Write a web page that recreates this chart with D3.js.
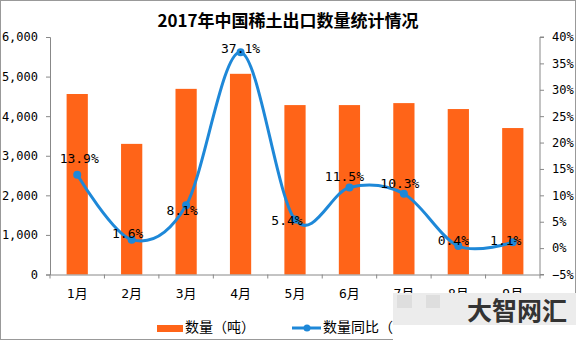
<!DOCTYPE html>
<html><head><meta charset="utf-8">
<script src="https://cdn.jsdelivr.net/npm/d3@7/dist/d3.min.js"></script>
<style>
body{margin:0;background:#fff;}
svg{display:block;}
text{font-family:"DejaVu Sans Mono","Noto Sans CJK SC",monospace;}
</style></head>
<body><svg id="c" width="576" height="341"></svg>
<script>
const title = "2017年中国稀土出口数量统计情况";
const months = ["1月","2月","3月","4月","5月","6月","7月","8月","9月"];
const volume = [4560,3300,4690,5070,4280,4280,4330,4180,3700];
const yoy = [13.9,1.6,8.1,37.1,5.4,11.5,10.3,0.4,1.1];
const leftTicks = [0,1000,2000,3000,4000,5000,6000];
const rightTicks = [-5,0,5,10,15,20,25,30,35,40];
const seriesNames = ["数量（吨）","数量同比（%）"];
// label offsets relative to points (layout only)
const labelDx = [2,-4,-4,0,-8,-5,-4,-5,-7];
const labelDy = [-15,-5,6,-3,2,-10,-9,-5,-1];

const orange = "#FF6418", blue = "#1E88D8", axisC = "#888";
const svg = d3.select("#c");
const L = 50, R = 540, T = 37, B = 274.5;

svg.append("rect").attr("x",0.5).attr("y",0.5).attr("width",575).attr("height",339)
  .attr("fill","#fff").attr("stroke","#999");

svg.append("text").attr("x",288).attr("y",22).attr("text-anchor","middle")
  .attr("dominant-baseline","middle")
  .style("font-family","'Noto Sans CJK SC',sans-serif").style("font-weight","bold")
  .style("font-size","17px").text(title);

const x = d3.scaleBand().domain(months).range([L,R]);
const yL = d3.scaleLinear().domain([0,6000]).range([B,T]);
const yR = d3.scaleLinear().domain([-5,40]).range([B,T]);

// bars
const bw = x.bandwidth()*0.39;
svg.append("g").selectAll("rect").data(months).join("rect")
  .attr("x",(d)=>x(d)+x.bandwidth()/2-bw/2)
  .attr("y",(d,i)=>yL(volume[i]))
  .attr("width",bw)
  .attr("height",(d,i)=>yL(0)-yL(volume[i]))
  .attr("fill",orange);

// axes
const fmt = d3.format(",");
const gl = svg.append("g").attr("transform",`translate(${L},0)`)
  .call(d3.axisLeft(yL).tickValues(leftTicks).tickFormat(fmt).tickSize(4).tickPadding(8));
const gr = svg.append("g").attr("transform",`translate(${R},0)`)
  .call(d3.axisRight(yR).tickValues(rightTicks).tickFormat(d=>d3.format("")(d)+"%").tickSize(4).tickPadding(8));
const gx = svg.append("g").attr("transform",`translate(0,${B})`)
  .call(d3.axisBottom(x).tickSize(0).tickPadding(14));
// band boundary ticks
const bounds = months.map(m=>x(m)).concat([R]);
gx.selectAll("line.bt").data(bounds).join("line").attr("class","bt")
  .attr("x1",d=>d).attr("x2",d=>d).attr("y1",0).attr("y2",4).attr("stroke",axisC);
[gl,gr,gx].forEach(g=>{
  g.selectAll("path.domain").attr("stroke",axisC);
  g.selectAll(".tick line").attr("stroke",axisC);
  g.selectAll("text").attr("fill","#000").style("font-size","12px")
   .style("font-family","'DejaVu Sans Mono','Noto Sans CJK SC',monospace");
});
gx.selectAll("text").style("font-size","13px");
gr.select("path.domain").attr("d",`M4,${T}H0V${B}H4`);

// line
const cx = (i)=>x(months[i])+x.bandwidth()/2;
const line = d3.line().x((d,i)=>cx(i)).y(d=>yR(d)).curve(d3.curveCardinal.tension(0));
svg.append("path").datum(yoy).attr("d",line).attr("fill","none")
  .attr("stroke",blue).attr("stroke-width",3);
svg.append("g").selectAll("circle").data(yoy).join("circle")
  .attr("cx",(d,i)=>cx(i)).attr("cy",d=>yR(d)).attr("r",4).attr("fill",blue);
svg.append("g").selectAll("text").data(yoy).join("text")
  .attr("x",(d,i)=>cx(i)+labelDx[i]).attr("y",(d,i)=>yR(d)+labelDy[i])
  .attr("text-anchor","middle").attr("dominant-baseline","middle")
  .style("font-size","13px").text(d=>d.toFixed(1)+"%");

// legend
const lg = svg.append("g");
lg.append("rect").attr("x",157).attr("y",325).attr("width",26).attr("height",7).attr("fill",orange);
lg.append("text").attr("x",185).attr("y",328).attr("dominant-baseline","middle")
  .style("font-family","'Noto Sans CJK SC',sans-serif").style("font-size","14px").text(seriesNames[0]);
lg.append("line").attr("x1",292).attr("x2",321).attr("y1",328).attr("y2",328)
  .attr("stroke",blue).attr("stroke-width",3);
lg.append("circle").attr("cx",307).attr("cy",328).attr("r",3.5).attr("fill",blue);
lg.append("text").attr("x",323).attr("y",328).attr("dominant-baseline","middle")
  .style("font-family","'Noto Sans CJK SC',sans-serif").style("font-size","14px").text(seriesNames[1]);

// overlay badge
const ov = svg.append("g");
ov.append("rect").attr("x",393).attr("y",293).attr("width",183).attr("height",48).attr("fill","#fff");
ov.append("rect").attr("x",393).attr("y",293).attr("width",183).attr("height",32).attr("fill","#ececec");
ov.append("rect").attr("x",397).attr("y",295).attr("width",15).attr("height",13).attr("fill","#dedede");
ov.append("rect").attr("x",426).attr("y",295).attr("width",14).attr("height",13).attr("fill","#dedede");
ov.append("text").attr("x",567).attr("y",313).attr("text-anchor","end").attr("dominant-baseline","middle")
  .style("font-family","'Noto Sans CJK SC',sans-serif").style("font-weight","bold")
  .style("font-size","25px").attr("fill","#333").text("大智网汇");
</script></body></html>
